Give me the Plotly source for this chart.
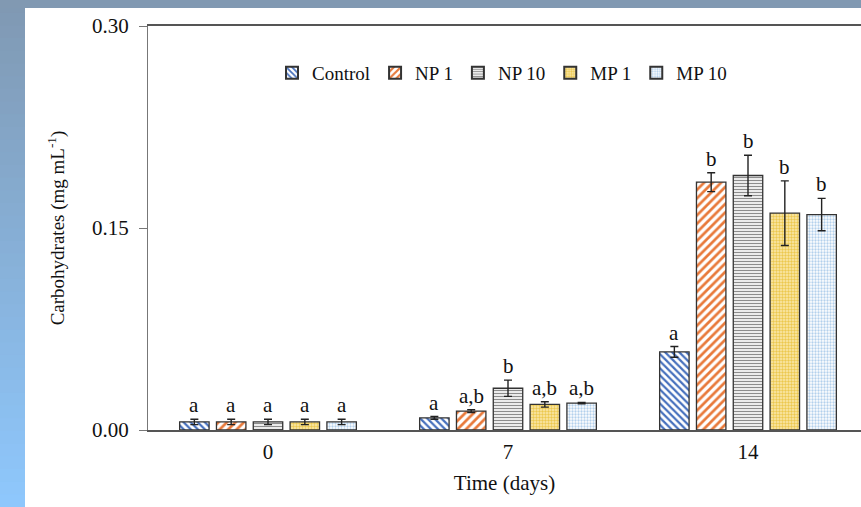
import plotly.graph_objects as go

# Sampling days and treatments
days = ["0", "7", "14"]
treatments = ["Control", "NP 1", "NP 10", "MP 1", "MP 10"]

# Mean carbohydrate concentration (mg/mL) per treatment, by day
control = [0.006, 0.009, 0.058]
np1 = [0.006, 0.014, 0.184]
np10 = [0.006, 0.031, 0.189]
mp1 = [0.006, 0.019, 0.161]
mp10 = [0.006, 0.020, 0.160]

# Standard deviations
control_sd = [0.002, 0.001, 0.004]
np1_sd = [0.002, 0.001, 0.007]
np10_sd = [0.002, 0.006, 0.015]
mp1_sd = [0.002, 0.002, 0.024]
mp10_sd = [0.002, 0.0005, 0.012]

# Statistical grouping letters
control_lbl = ["a", "a", "a"]
np1_lbl = ["a", "a,b", "b"]
np10_lbl = ["a", "b", "b"]
mp1_lbl = ["a", "a,b", "b"]
mp10_lbl = ["a", "a,b", "b"]

means = [control, np1, np10, mp1, mp10]
sds = [control_sd, np1_sd, np10_sd, mp1_sd, mp10_sd]
letters = [control_lbl, np1_lbl, np10_lbl, mp1_lbl, mp10_lbl]

styles = [
    dict(shape="\\", fg="#4670bd", bg="#ffffff", size=5, solid=0.45),
    dict(shape="/", fg="#e8793a", bg="#ffffff", size=6, solid=0.45),
    dict(shape="-", fg="#8c8c8c", bg="#ffffff", size=3, solid=0.45),
    dict(shape=".", fg="#ecc84e", bg="#fbeab0", size=3, solid=0.5),
    dict(shape=".", fg="#b3d0ec", bg="#ffffff", size=3, solid=0.45),
]

SERIF = "Liberation Serif, Times New Roman, serif"

# Figure geometry
W, H = 861, 507
ML, MR, MT, MB = 148, 0, 26, 77
pw, ph = W - ML - MR, H - MT - MB


def px_x(p):
    return (p - ML) / pw


def px_y(p):
    return (H - MB - p) / ph


fig = go.Figure()

for name, m, s, st in zip(treatments, means, sds, styles):
    fig.add_trace(go.Bar(
        name=name,
        x=days,
        y=m,
        error_y=dict(type="data", array=s, visible=True, color="#222222",
                     thickness=1.4, width=4),
        marker=dict(
            color=st["bg"],
            line=dict(color="#333333", width=1.3),
            pattern=dict(shape=st["shape"], fgcolor=st["fg"], bgcolor=st["bg"],
                         size=st["size"], solidity=st["solid"],
                         fillmode="replace", fgopacity=1),
        ),
    ))

# Letters above the error bars
ntr = len(treatments)
slot = (1 - 0.233) / ntr
for i, (m, s, lab) in enumerate(zip(means, sds, letters)):
    for j in range(len(days)):
        xpos = j - (1 - 0.233) / 2 + slot * (i + 0.5)
        fig.add_annotation(
            x=xpos, y=m[j] + s[j], xref="x", yref="y",
            text=lab[j], showarrow=False, yanchor="bottom", yshift=0,
            font=dict(family=SERIF, size=21, color="#111111"),
        )

# Frame backdrop: blue gradient strip on the left, grey-blue band on top
shapes = []
top_c = (0x80, 0x99, 0xb3)
bot_c = (0x8e, 0xc7, 0xfc)
n = 40
for k in range(n):
    t = k / (n - 1)
    c = tuple(int(round(top_c[q] + (bot_c[q] - top_c[q]) * t)) for q in range(3))
    y0p = k * H / n
    y1p = (k + 1) * H / n + 1
    shapes.append(dict(type="rect", xref="paper", yref="paper",
                       x0=px_x(0), x1=px_x(25), y0=px_y(y1p), y1=px_y(y0p),
                       fillcolor="rgb(%d,%d,%d)" % c, line=dict(width=0),
                       layer="below"))
shapes.append(dict(type="rect", xref="paper", yref="paper",
                   x0=px_x(0), x1=px_x(W), y0=px_y(8), y1=px_y(0),
                   fillcolor="#8199b2", line=dict(width=0), layer="below"))

fig.update_layout(
    width=W, height=H,
    margin=dict(l=ML, r=MR, t=MT, b=MB, pad=0),
    paper_bgcolor="#ffffff",
    plot_bgcolor="rgba(0,0,0,0)",
    barmode="group",
    bargap=0.233,
    bargroupgap=0.2,
    shapes=shapes,
    font=dict(family=SERIF, color="#111111"),
    legend=dict(
        orientation="h", x=px_x(502), y=px_y(54), xanchor="center", yanchor="top",
        font=dict(family=SERIF, size=19, color="#111111"),
        bgcolor="rgba(0,0,0,0)", itemwidth=30, tracegroupgap=0,
        itemsizing="constant",
    ),
    xaxis=dict(
        range=[-0.5, -0.5 + pw / 240.0],
        showline=True, linecolor="#555555", linewidth=1.6, mirror=True,
        ticks="", showgrid=False, zeroline=False,
        tickfont=dict(family=SERIF, size=21, color="#111111"),
        ticklabelstandoff=2,
        title=dict(text="Time (days)", font=dict(family=SERIF, size=21, color="#111111"),
                   standoff=12),
    ),
    yaxis=dict(
        range=[0, 0.30],
        tickvals=[0.0, 0.15, 0.30],
        ticktext=["0.00", "0.15", "0.30"],
        showline=True, linecolor="#777777", linewidth=1.3,
        ticks="outside", ticklen=8, tickcolor="#777777", tickwidth=1.2,
        ticklabelstandoff=6,
        showgrid=False, zeroline=False,
        tickfont=dict(family=SERIF, size=21, color="#111111"),
        title=dict(text="Carbohydrates (mg mL<sup>-1</sup>)",
                   font=dict(family=SERIF, size=19, color="#111111"), standoff=22),
    ),
)

fig.write_html("out.html")
